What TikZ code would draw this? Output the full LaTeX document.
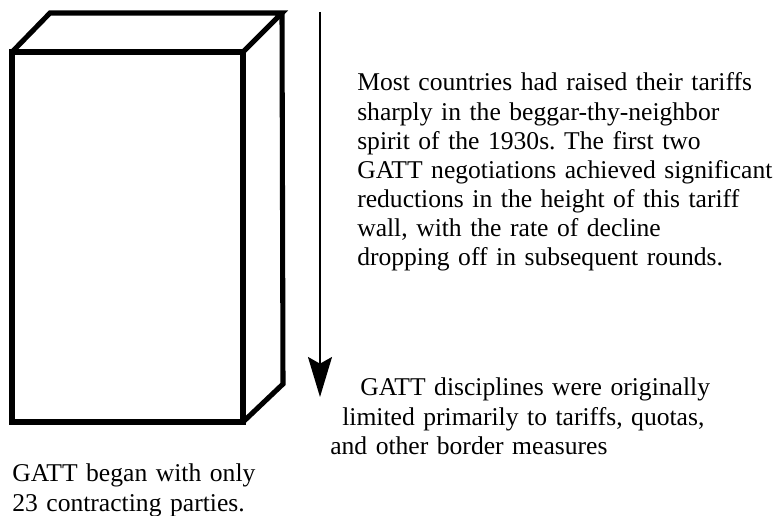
\documentclass[tikz,border=0pt]{standalone}
\usepackage{fontspec}
\setmainfont{Liberation Serif}
\frenchspacing
\usetikzlibrary{arrows.meta}
\tikzset{
  wall/.style={line width=3.8pt, line join=miter},
  note/.style={anchor=base west, inner sep=0pt, text width=440pt, align=left,
    font=\fontsize{19.2}{21.8}\selectfont},
  drop/.style={-{Stealth[length=30pt,width=18pt,inset=5pt]}, line width=1.1pt}
}
\begin{document}
\begin{tikzpicture}[x=0.75pt,y=-0.75pt]
      \useasboundingbox (0,0) rectangle (783,516);
      \draw[wall] (12,52) rectangle (243,422);
      \draw[wall] (12,52) -- (50,13) -- (282,13) -- (243,52);
      \draw[wall] (282,13) -- (283,384) -- (243,422);
      \coordinate (droptop) at (320,12);
      \coordinate (droptip) at (320,397);
      \draw[drop] (droptop) -- (droptip);
      \node[note] (tariffs) at (357,91)
        {Most countries had raised their tariffs\\
         sharply in the beggar-thy-neighbor\\
         spirit of the 1930s. The first two\\
         GATT negotiations achieved significant\\
         reductions in the height of this tariff\\
         wall, with the rate of decline\\
         dropping off in subsequent rounds.};
      \node[note] (disciplines) at (330,396)
        {\hspace*{22.5pt}GATT disciplines were originally\\
         \hspace*{9pt}limited primarily to tariffs, quotas,\\
         and other border measures};
      \node[note] (parties) at (12,482)
        {GATT began with only\\
         23 contracting parties.};
    \end{tikzpicture}
\end{document}
